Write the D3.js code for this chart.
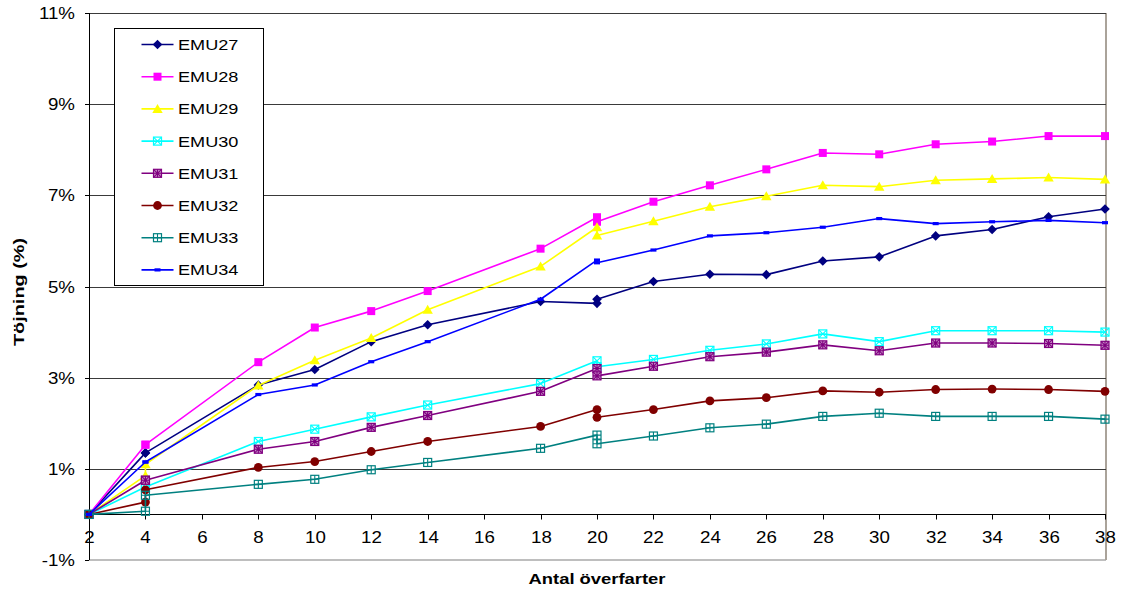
<!DOCTYPE html>
<html>
<head>
<meta charset="utf-8">
<script src="https://cdn.jsdelivr.net/npm/d3@7"></script>
<style>
  html, body { margin: 0; padding: 0; background: #fff; }
  svg { display: block; font-family: "Liberation Sans", Arial, sans-serif; }
</style>
</head>
<body>
<svg id="chart" width="1122" height="591"></svg>
<script>
// ---- data ----
const xValues = [2, 4, 4, 8, 10, 12, 14, 18, 20, 20, 22, 24, 26, 28, 30, 32, 34, 36, 38];
const seriesNames = ["EMU27", "EMU28", "EMU29", "EMU30", "EMU31", "EMU32", "EMU33", "EMU34"];
const emu27 = [0, 1.35, 1.35, 2.84, 3.18, 3.79, 4.16, 4.67, 4.63, 4.72, 5.11, 5.27, 5.26, 5.56, 5.65, 6.11, 6.25, 6.53, 6.70];
const emu28 = [0, 1.53, 1.53, 3.34, 4.10, 4.46, 4.90, 5.83, 6.52, 6.42, 6.86, 7.22, 7.57, 7.93, 7.90, 8.12, 8.18, 8.30, 8.30];
const emu29 = [0, 0.85, 1.10, 2.83, 3.38, 3.87, 4.49, 5.44, 6.30, 6.12, 6.43, 6.75, 6.98, 7.22, 7.19, 7.33, 7.36, 7.39, 7.35];
const emu30 = [0, 0.60, 0.60, 1.60, 1.87, 2.14, 2.40, 2.87, 3.37, 3.24, 3.40, 3.60, 3.74, 3.96, 3.79, 4.03, 4.03, 4.03, 4.00];
const emu31 = [0, 0.75, 0.75, 1.43, 1.60, 1.91, 2.17, 2.70, 3.20, 3.04, 3.25, 3.46, 3.56, 3.72, 3.59, 3.76, 3.76, 3.75, 3.71];
const emu32 = [0, 0.27, 0.54, 1.03, 1.16, 1.38, 1.60, 1.93, 2.30, 2.13, 2.30, 2.49, 2.56, 2.71, 2.68, 2.74, 2.75, 2.74, 2.70];
const emu33 = [0, 0.07, 0.42, 0.66, 0.77, 0.98, 1.14, 1.45, 1.74, 1.55, 1.72, 1.90, 1.98, 2.15, 2.22, 2.15, 2.15, 2.15, 2.09];
const emu34 = [0, 1.15, 1.15, 2.63, 2.84, 3.35, 3.79, 4.72, 5.58, 5.52, 5.80, 6.11, 6.18, 6.30, 6.49, 6.38, 6.42, 6.45, 6.40];
const seriesValues = [emu27, emu28, emu29, emu30, emu31, emu32, emu33, emu34];
const xTickValues = [2, 4, 6, 8, 10, 12, 14, 16, 18, 20, 22, 24, 26, 28, 30, 32, 34, 36, 38];
const yTickValues = [-1, 1, 3, 5, 7, 9, 11];
const gridValues = [1, 3, 5, 7, 9, 11];
const xTitle = "Antal överfarter";
const yTitle = "Töjning (%)";

// ---- styles ----
const colors = ["#000080", "#FF00FF", "#FFFF00", "#00FFFF", "#800080", "#800000", "#008080", "#0000FF"];
const markerTypes = ["diamond", "square", "triangle", "squareX", "squareStar", "circle", "squarePlus", "dash"];

const svg = d3.select("#chart");
const L = 89, R = 1105, T = 13, B = 560;
const x = d3.scaleLinear().domain([2, 38]).range([L, R]);
const y = d3.scaleLinear().domain([-1, 11]).range([B, T]);
const SX = 1.17; // horizontal text stretch seen in reference

// plot border (right / bottom)
svg.append("line").attr("x1", L).attr("x2", R + 1).attr("y1", B).attr("y2", B)
  .attr("stroke", "#a8a8a8").attr("stroke-width", 1.5);
svg.append("line").attr("x1", R + 1).attr("x2", R + 1).attr("y1", T).attr("y2", B)
  .attr("stroke", "#aaa39a").attr("stroke-width", 2);

// gridlines
svg.append("g").selectAll("line").data(gridValues).join("line")
  .attr("x1", L).attr("x2", R + 1)
  .attr("y1", d => Math.round(y(d)) + 0.5).attr("y2", d => Math.round(y(d)) + 0.5)
  .attr("stroke", "#3a3a3a").attr("stroke-width", 1);

// y axis line + ticks
svg.append("line").attr("x1", L + 0.5).attr("x2", L + 0.5).attr("y1", T).attr("y2", B)
  .attr("stroke", "#000").attr("stroke-width", 1);
const yt = svg.append("g").selectAll("g").data(yTickValues).join("g")
  .attr("transform", d => `translate(0,${Math.round(y(d)) + 0.5})`);
yt.append("line").attr("x1", L - 4).attr("x2", L).attr("stroke", "#000");
yt.append("text").attr("transform", `translate(${L - 14},0) scale(${SX},1)`)
  .attr("text-anchor", "end").attr("dy", "0.36em")
  .attr("font-size", 16).attr("fill", "#000")
  .text(d => d + "%");

// x axis at y = 0
const y0 = Math.round(y(0)) + 0.5;
svg.append("line").attr("x1", L).attr("x2", R + 1).attr("y1", y0).attr("y2", y0)
  .attr("stroke", "#000");
const xt = svg.append("g").selectAll("g").data(xTickValues).join("g")
  .attr("transform", d => `translate(${Math.round(x(d)) + 0.5},${y0})`);
xt.append("line").attr("y1", 0).attr("y2", 5).attr("stroke", "#000");
xt.append("text").attr("transform", `translate(0,28) scale(${SX},1)`)
  .attr("text-anchor", "middle").attr("font-size", 16).attr("fill", "#000")
  .text(d => d);

// axis titles
svg.append("text").attr("x", (L + R) / 2).attr("y", 584)
  .attr("text-anchor", "middle").attr("font-weight", "bold").attr("font-size", 15)
  .attr("textLength", 137).attr("lengthAdjust", "spacingAndGlyphs")
  .text(xTitle);
svg.append("text").attr("transform", "translate(24,292) rotate(-90)")
  .attr("text-anchor", "middle").attr("font-weight", "bold").attr("font-size", 15)
  .attr("textLength", 108).attr("lengthAdjust", "spacingAndGlyphs")
  .text(yTitle);

// marker drawing
function drawMarker(g, type, color) {
  const s = 4;
  if (type === "diamond") {
    g.append("path").attr("d", "M0,-4.8L4.8,0L0,4.8L-4.8,0Z").attr("fill", color);
  } else if (type === "square") {
    g.append("rect").attr("x", -s).attr("y", -s).attr("width", 2 * s).attr("height", 2 * s).attr("fill", color);
  } else if (type === "triangle") {
    g.append("path").attr("d", "M0,-5L5.2,4L-5.2,4Z").attr("fill", color);
  } else if (type === "circle") {
    g.append("circle").attr("r", 4.4).attr("fill", color);
  } else if (type === "dash") {
    g.append("rect").attr("x", -3).attr("y", -1.6).attr("width", 6).attr("height", 3.2).attr("fill", color);
  } else {
    g.append("rect").attr("x", -s).attr("y", -s).attr("width", 2 * s).attr("height", 2 * s)
      .attr("fill", type === "squareStar" ? "#c58ec5" : "#fff").attr("fill-opacity", type === "squareStar" ? 1 : 0)
      .attr("stroke", color).attr("stroke-width", 1.2);
    let p = "";
    if (type === "squareX" || type === "squareStar") p += `M${-s},${-s}L${s},${s}M${s},${-s}L${-s},${s}`;
    if (type === "squarePlus" || type === "squareStar") p += `M0,${-s}L0,${s}M${-s},0L${s},0`;
    g.append("path").attr("d", p).attr("stroke", color).attr("stroke-width", 1.1).attr("fill", "none");
  }
}

// series
const line = d3.line().x(d => x(d.x)).y(d => y(d.y));
seriesNames.forEach((name, i) => {
  const pts = xValues.map((xv, j) => ({ x: xv, y: seriesValues[i][j] }));
  const g = svg.append("g");
  g.append("path").datum(pts).attr("d", line).attr("fill", "none")
    .attr("stroke", colors[i]).attr("stroke-width", 1.6).attr("stroke-linejoin", "round");
  pts.forEach(p => {
    const m = g.append("g").attr("transform", `translate(${x(p.x)},${y(p.y)})`);
    drawMarker(m, markerTypes[i], colors[i]);
  });
});

// legend
const lg = svg.append("g");
lg.append("rect").attr("x", 114.5).attr("y", 28.5).attr("width", 149).attr("height", 257)
  .attr("fill", "#fff").attr("stroke", "#000").attr("stroke-width", 1);
seriesNames.forEach((name, i) => {
  const cy = 44.5 + i * 32.2;
  const g = lg.append("g");
  g.append("line").attr("x1", 141.5).attr("x2", 173.5).attr("y1", cy).attr("y2", cy)
    .attr("stroke", colors[i]).attr("stroke-width", 1.6);
  drawMarker(g.append("g").attr("transform", `translate(157.5,${cy})`), markerTypes[i], colors[i]);
  g.append("text").attr("transform", `translate(178,${cy}) scale(${SX},1)`)
    .attr("dy", "0.36em").attr("font-size", 15.5).attr("fill", "#000").text(name);
});
</script>
</body>
</html>
